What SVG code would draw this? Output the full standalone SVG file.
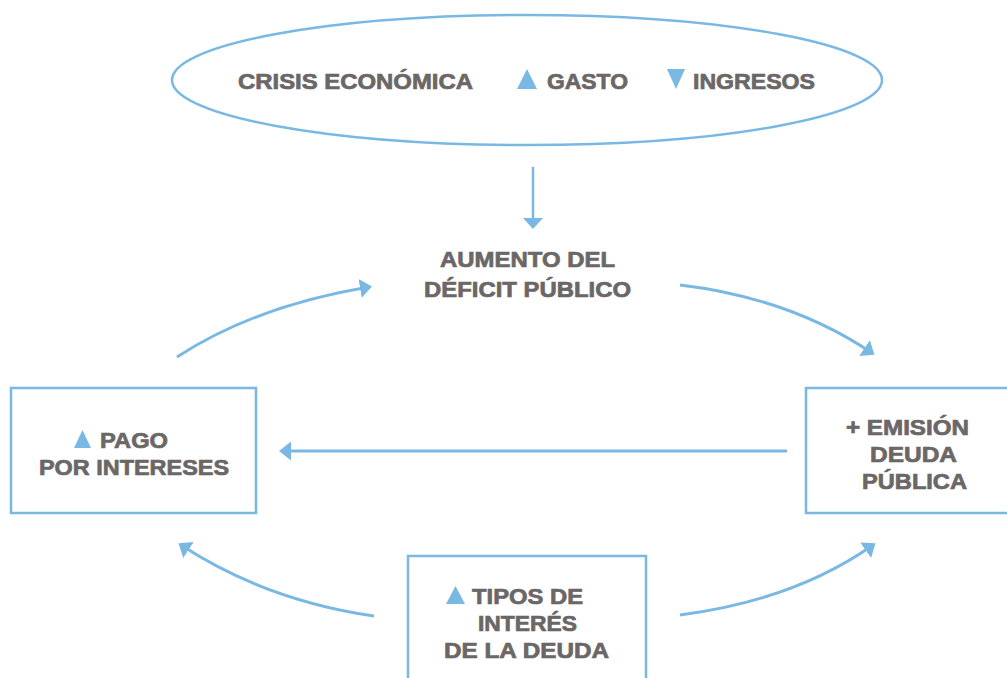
<svg xmlns="http://www.w3.org/2000/svg" width="1007" height="678" viewBox="0 0 1007 678">
<defs>
<style>
.t{font-family:"Liberation Sans",Arial,sans-serif;font-weight:bold;font-size:22px;fill:#6b6767;stroke:#6b6767;stroke-width:0.7;}
.c{fill:none;stroke:#7ab8e4;stroke-width:3;}
.b{fill:#ffffff;stroke:#7ab8e4;stroke-width:2.5;}
.tri{fill:#7ab8e4;}
</style>
<marker id="ah" markerUnits="userSpaceOnUse" markerWidth="14" markerHeight="20" refX="9" refY="9.5" orient="auto">
<path d="M0,0 L12,9.5 L0,19 z" fill="#7ab8e4"/>
</marker>
</defs>
<rect width="1007" height="678" fill="#ffffff"/>
<g id="crisis">
<ellipse cx="527" cy="80" rx="355" ry="65" class="b"/>
<text class="t" x="238" y="89" textLength="235" lengthAdjust="spacingAndGlyphs">CRISIS ECONÓMICA</text>
<polygon class="tri" points="527,69 537,89 517,89"/>
<text class="t" x="547" y="89" textLength="81" lengthAdjust="spacingAndGlyphs">GASTO</text>
<polygon class="tri" points="667,69 685,69 676,89"/>
<text class="t" x="693" y="89" textLength="122" lengthAdjust="spacingAndGlyphs">INGRESOS</text>
</g>
<g id="deficit">
<text class="t" x="440" y="267" textLength="175" lengthAdjust="spacingAndGlyphs">AUMENTO DEL</text>
<text class="t" x="424" y="297" textLength="207" lengthAdjust="spacingAndGlyphs">DÉFICIT PÚBLICO</text>
</g>
<g id="pago">
<rect class="b" x="11" y="388" width="245" height="125"/>
<polygon class="tri" points="82.5,430 91,448 74,448"/>
<text class="t" x="100" y="448" textLength="68" lengthAdjust="spacingAndGlyphs">PAGO</text>
<text class="t" x="39" y="475" textLength="190" lengthAdjust="spacingAndGlyphs">POR INTERESES</text>
</g>
<g id="emision">
<rect class="b" x="806" y="388" width="210" height="125"/>
<text class="t" x="846" y="435" textLength="123" lengthAdjust="spacingAndGlyphs">+ EMISIÓN</text>
<text class="t" x="870" y="462" textLength="87" lengthAdjust="spacingAndGlyphs">DEUDA</text>
<text class="t" x="862" y="489" textLength="105" lengthAdjust="spacingAndGlyphs">PÚBLICA</text>
</g>
<g id="tipos">
<rect class="b" x="408" y="556" width="238" height="130"/>
<polygon class="tri" points="455.5,586 465,604 446,604"/>
<text class="t" x="472" y="604" textLength="111" lengthAdjust="spacingAndGlyphs">TIPOS DE</text>
<text class="t" x="478" y="631" textLength="99" lengthAdjust="spacingAndGlyphs">INTERÉS</text>
<text class="t" x="444" y="658" textLength="165" lengthAdjust="spacingAndGlyphs">DE LA DEUDA</text>
</g>
<g id="connectors">
<path d="M533,167 L533,220" class="c" style="stroke-width:2.5"/>
<polygon class="tri" points="523,218 543,218 533,229"/>
<path class="c" marker-end="url(#ah)" d="M177,357 Q255,306 369,287"/>
<path class="c" marker-end="url(#ah)" d="M680,285 Q790,298 872,353"/>
<path class="c" marker-end="url(#ah)" d="M787,451 L282,451"/>
<path class="c" marker-end="url(#ah)" d="M374,616 Q265,600 181,545"/>
<path class="c" marker-end="url(#ah)" d="M680,615 Q795,600 873,545"/>
</g>
</svg>
